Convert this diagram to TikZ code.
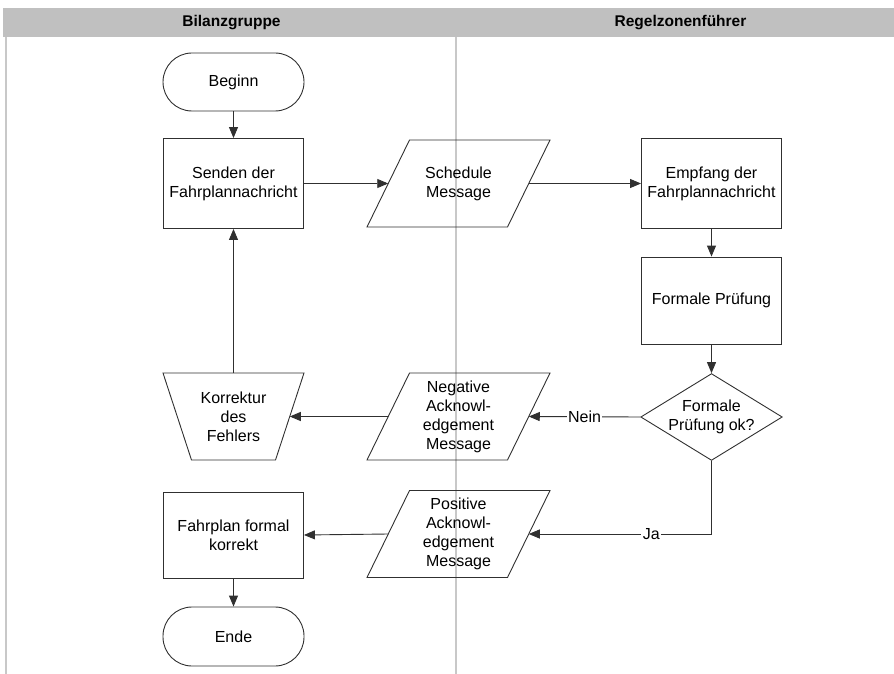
\documentclass[tikz,border=0pt]{standalone}
\usepackage{fontspec}
\setmainfont{Liberation Sans}
\usetikzlibrary{arrows.meta,shapes.geometric,calc}
\definecolor{hdr}{HTML}{C0C0C0}
\definecolor{lane}{HTML}{C8C8C8}
\definecolor{ink}{HTML}{303030}
\begin{document}
\begin{tikzpicture}[x=1pt,y=-1pt,
  every node/.style={font=\fontsize{16}{19}\selectfont, text=black, align=center},
  procbox/.style={draw=ink, line width=0.9pt, rectangle, minimum width=140pt, minimum height=90pt, inner sep=0pt},
  termbox/.style={draw=ink, line width=0.9pt, rectangle, rounded corners=29pt, minimum width=141pt, minimum height=58pt, inner sep=0pt},
  decbox/.style={draw=ink, line width=0.9pt, diamond, minimum width=140pt, minimum height=86pt, inner sep=0pt, aspect=1.63},
  txtnode/.style={inner sep=0pt},
  shapeline/.style={draw=ink, line width=0.9pt, line join=miter},
  flow/.style={draw=ink, line width=0.9pt, -{Triangle[length=11pt,width=9pt]}},
  flowline/.style={draw=ink, line width=0.9pt},
  lbl/.style={fill=white, inner sep=1.5pt},
  lanehead/.style={font=\fontsize{15.5}{18}\selectfont\bfseries}
]
\useasboundingbox (0,0) rectangle (894,674);
% lanes
\fill[hdr] (3,8) rectangle (894,37);
\draw[lane, line width=1.2pt] (6,37) -- (6,674);
\draw[lane, line width=1.2pt] (456,37) -- (456,674);
\node[lanehead] (h1) at (231.5,23) {Bilanzgruppe};
\node[lanehead] (h2) at (680.5,23) {Regelzonenführer};

% nodes
\node[termbox] (begin) at (233.5,82) {Beginn};
\node[procbox] (send) at (233.5,183.5) {Senden der\\Fahrplannachricht};
\node[txtnode] (sch) at (458.5,183.5) {Schedule\\Message};
\node[procbox, minimum width=140pt] (emp) at (711.5,183.5) {Empfang der\\Fahrplannachricht};
\node[procbox, minimum height=87pt] (form) at (711.5,300.5) {Formale Prüfung};
\node[decbox] (dec) at (711.5,417) {Formale\\Prüfung ok?};
\node[txtnode] (neg) at (458.5,416.5) {Negative\\Acknowl-\\edgement\\Message};
\node[txtnode] (kor) at (233.5,416.5) {Korrektur\\des\\Fehlers};
\node[txtnode] (pos) at (458.5,534) {Positive\\Acknowl-\\edgement\\Message};
\node[procbox, minimum height=86pt] (fpk) at (233.5,535) {Fahrplan formal\\korrekt};
\node[termbox, minimum height=59pt] (ende) at (233.5,636.5) {Ende};

% parallelograms and trapezoid outlines
\foreach \n in {sch,neg,pos}{
  \draw[shapeline, shift={(\n.center)}] (-49,-43.5) -- (91.5,-43.5) -- (49,43.5) -- (-91.5,43.5) -- cycle;
  \coordinate (\n-l) at ($(\n.center)+(-70.25,0)$);
  \coordinate (\n-r) at ($(\n.center)+(70.25,0)$);
}
\draw[shapeline, shift={(kor.center)}] (-70.5,-43.5) -- (70.5,-43.5) -- (42,43.5) -- (-42,43.5) -- cycle;
\coordinate (kor-r) at ($(kor.center)+(56.25,0)$);
\coordinate (kor-t) at ($(kor.center)+(0,-43.5)$);
\coordinate (jacorner) at (dec.south |- pos.center);

% connectors
\draw[flow] (begin) -- (send);
\draw[flow] (send.east) -- (sch-l);
\draw[flow] (sch-r) -- (emp.west);
\draw[flow] (emp) -- (form);
\draw[flow] (form) -- (dec.north);
\draw[flow] (dec.west) -- node[lbl] (nein) {Nein} (neg-r);
\draw[flow] (neg-l) -- (kor-r);
\draw[flow] (kor-t) -- (send.south);
\draw[flowline] (dec.south) -- (jacorner);
\draw[flow] (jacorner) -- node[lbl, pos=0.33] (ja) {Ja} (pos-r);
\draw[flow] (pos-l) -- (fpk.east);
\draw[flow] (fpk) -- (ende);
\end{tikzpicture}
\end{document}
